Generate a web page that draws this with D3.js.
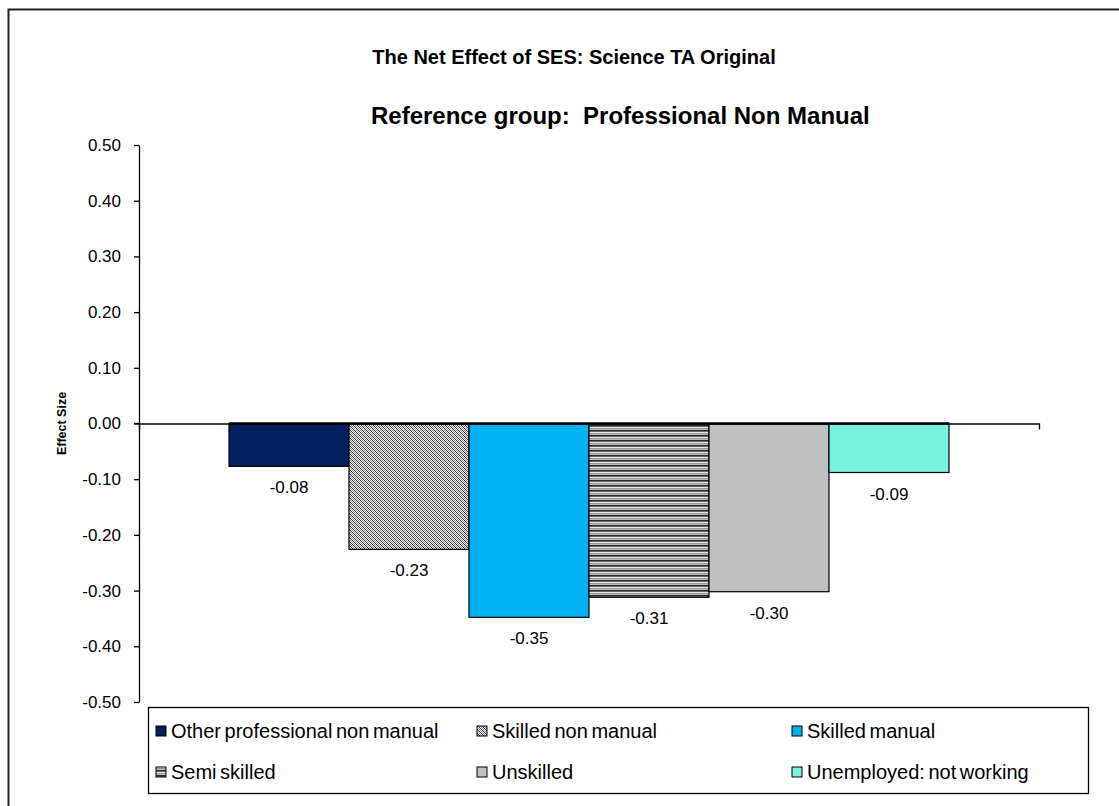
<!DOCTYPE html>
<html>
<head>
<meta charset="utf-8">
<script src="https://cdn.jsdelivr.net/npm/d3@7"></script>
<style>
  body { margin: 0; background: #fff; }
  svg { font-family: "Liberation Sans", Arial, sans-serif; }
</style>
</head>
<body>
<div id="chart"></div>
<script>
// data
var series = ["Other professional non manual", "Skilled non manual", "Skilled manual",
              "Semi skilled", "Unskilled", "Unemployed: not working"];
var values = [-0.077, -0.226, -0.348, -0.312, -0.302, -0.088];
var yTicks = [0.5, 0.4, 0.3, 0.2, 0.1, 0, -0.1, -0.2, -0.3, -0.4, -0.5];
var fills = ["#002060", "url(#pat-diag)", "#00B0F0", "url(#pat-hstripe)", "#C0C0C0", "#76F2DE"];

var width = 1119, height = 806;
var plot = { left: 139, right: 1039, top: 145, bottom: 702 };

var svg = d3.select("#chart").append("svg")
    .attr("width", width)
    .attr("height", height);

var defs = svg.append("defs");
// fine diagonal checker
var p1 = defs.append("pattern").attr("id", "pat-diag")
    .attr("patternUnits", "userSpaceOnUse").attr("width", 4).attr("height", 4);
p1.append("rect").attr("width", 4).attr("height", 4).attr("fill", "#fff");
var cells = [
    "KWGW",
    "WKWG",
    "GWKW",
    "WGWK"
];
var tone = { K: "#333", G: "#8a8a8a", W: "#f2f2f2" };
cells.forEach(function (row, r) {
    row.split("").forEach(function (c, k) {
        p1.append("rect").attr("x", k).attr("y", r).attr("width", 1).attr("height", 1)
            .attr("fill", tone[c]);
    });
});
// horizontal stripes
var p2 = defs.append("pattern").attr("id", "pat-hstripe")
    .attr("patternUnits", "userSpaceOnUse").attr("width", 4).attr("height", 5);
["#2a2a2a", "#666", "#e6e6e6", "#999", "#bbb"].forEach(function (c, r) {
    p2.append("rect").attr("y", r).attr("width", 4).attr("height", 1).attr("fill", c);
});

// outer frame (only top/left visible in the original)
svg.append("rect")
    .attr("x", 8.5).attr("y", 9.5)
    .attr("width", 1130).attr("height", 820)
    .attr("fill", "none").attr("stroke", "#222").attr("stroke-width", 2);

var y = d3.scaleLinear().domain([-0.5, 0.5]).range([plot.bottom, plot.top]);
var x0 = d3.scaleBand().domain(["g"]).range([plot.left, plot.right]).paddingInner(0).paddingOuter(0.1);
var x1 = d3.scaleBand().domain(series).range([229, 949]);

// titles
svg.append("text").attr("x", 574).attr("y", 64).attr("text-anchor", "middle")
    .attr("font-weight", "bold").attr("font-size", 20)
    .text("The Net Effect of SES: Science TA Original");
svg.append("text").attr("x", 371).attr("y", 124)
    .attr("font-weight", "bold").attr("font-size", 24)
    .style("white-space", "pre")
    .text("Reference group:  Professional Non Manual");

// y axis
var yAxis = svg.append("g")
    .attr("transform", "translate(" + plot.left + ",0)")
    .call(d3.axisLeft(y).tickValues(yTicks)
        .tickFormat(function (d) { return d.toFixed(2); })
        .tickSize(5).tickSizeOuter(0));
yAxis.select(".domain").attr("stroke", "#000").attr("stroke-width", 1.3);
yAxis.selectAll(".tick line").attr("stroke", "#000").attr("stroke-width", 1.3);
yAxis.selectAll(".tick text").attr("font-size", 17).attr("fill", "#000")
    .attr("x", -18).attr("font-family", "Liberation Sans, Arial, sans-serif");

svg.append("text")
    .attr("transform", "translate(66," + y(0) + ") rotate(-90)")
    .attr("text-anchor", "middle").attr("font-weight", "bold").attr("font-size", 12.5)
    .text("Effect Size");

// bars
svg.append("g").selectAll("rect")
    .data(values)
    .join("rect")
    .attr("x", function (d, i) { return x1(series[i]); })
    .attr("y", y(0))
    .attr("width", x1.bandwidth())
    .attr("height", function (d) { return y(d) - y(0); })
    .attr("fill", function (d, i) { return fills[i]; })
    .attr("stroke", "#000").attr("stroke-width", 1.2);

// value labels
svg.append("g").selectAll("text")
    .data(values)
    .join("text")
    .attr("x", function (d, i) { return x1(series[i]) + x1.bandwidth() / 2; })
    .attr("y", function (d) { return y(d) + 27; })
    .attr("text-anchor", "middle").attr("font-size", 17)
    .text(function (d) { return d.toFixed(2); });

// x axis at zero
var xAxis = svg.append("g")
    .attr("transform", "translate(0," + y(0) + ")")
    .call(d3.axisBottom(x0).tickSize(0).tickSizeOuter(6).tickFormat(""));
xAxis.select(".domain").attr("stroke", "#000").attr("stroke-width", 1.3);
svg.append("line").attr("x1", plot.left - 5).attr("x2", plot.left)
    .attr("y1", y(0)).attr("y2", y(0)).attr("stroke", "#000").attr("stroke-width", 1.3);
svg.append("line").attr("x1", 229).attr("x2", 949)
    .attr("y1", y(0)).attr("y2", y(0)).attr("stroke", "#000").attr("stroke-width", 2.5);

// legend
var legend = svg.append("g");
legend.append("rect").attr("x", 148.5).attr("y", 707.5).attr("width", 940).attr("height", 86)
    .attr("fill", "#fff").attr("stroke", "#000").attr("stroke-width", 1.3);
var legX = [156, 477, 792], legY = [731, 772];
series.forEach(function (s, i) {
    var lx = legX[i % 3], ly = legY[Math.floor(i / 3)];
    legend.append("rect").attr("x", lx).attr("y", ly - 5).attr("width", 10).attr("height", 10)
        .attr("fill", fills[i]).attr("stroke", "#000").attr("stroke-width", 1);
    legend.append("text").attr("x", lx + 15).attr("y", ly + 7)
        .attr("font-size", 20)
        .style("word-spacing", "-2px")
        .text(s);
});
</script>
</body>
</html>
